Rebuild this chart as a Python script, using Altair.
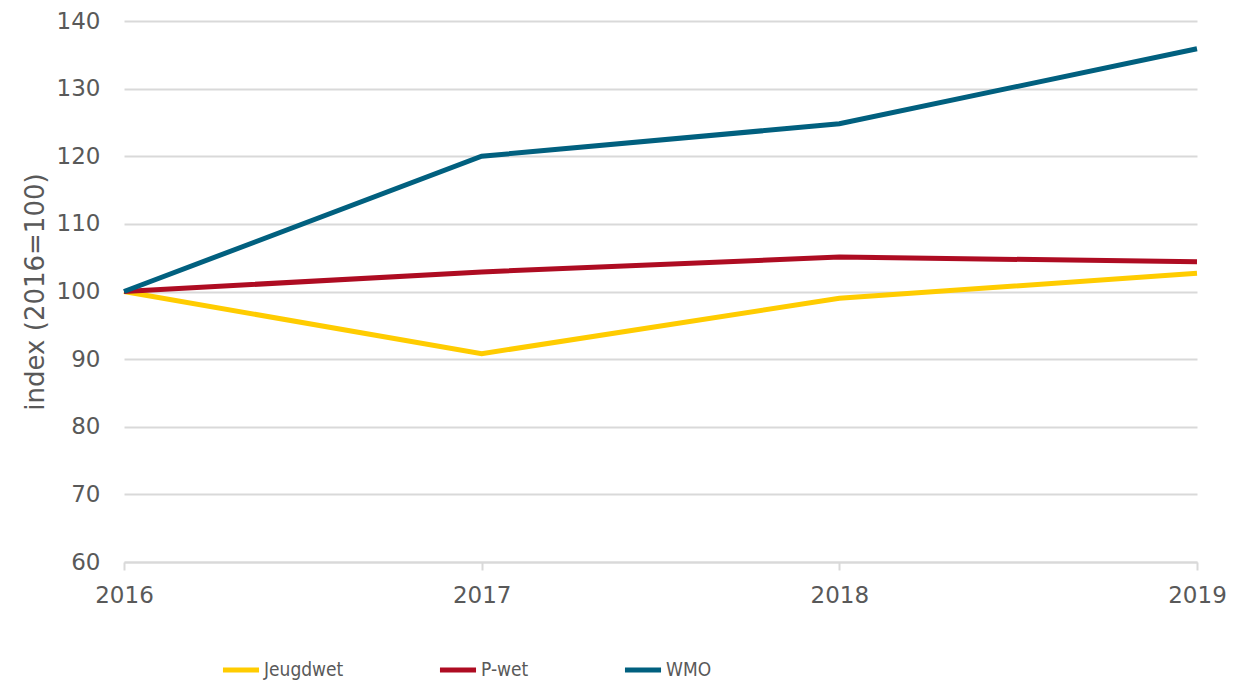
import altair as alt
import pandas as pd

years = [2016, 2017, 2018, 2019]
jeugdwet = [100, 90.8, 99.0, 102.7]
pwet = [100, 102.9, 105.1, 104.4]
wmo = [100, 120.0, 124.8, 135.9]
series = ["Jeugdwet", "P-wet", "WMO"]
colors = ["#FFCC00", "#AE0C22", "#01607F"]

rows = []
for name, vals in zip(series, [jeugdwet, pwet, wmo]):
    for y, v in zip(years, vals):
        rows.append({"jaar": y, "index": v, "reeks": name})
df = pd.DataFrame(rows)

FONT = "DejaVu Sans"
GREY = "#595959"

chart = alt.Chart(df).mark_line(strokeWidth=5).encode(
    x=alt.X("jaar:Q", scale=alt.Scale(domain=[2016, 2019], nice=False, zero=False),
            axis=alt.Axis(values=years, format="d", title=None, grid=False,
                          domain=True, domainColor="#D9D9D9", domainWidth=2,
                          ticks=True, tickColor="#D9D9D9", tickWidth=2, tickSize=8,
                          labelFlush=False,
                          labelPadding=14, labelFontSize=23, labelColor=GREY,
                          labelFont=FONT)),
    y=alt.Y("index:Q", scale=alt.Scale(domain=[60, 140], nice=False, zero=False),
            axis=alt.Axis(values=[60, 70, 80, 90, 100, 110, 120, 130, 140],
                          title="index (2016=100)", titleFontSize=26, titleFontWeight="normal",
                          titleColor=GREY, titleFont=FONT, titlePadding=8,
                          domain=False, ticks=False, grid=True, gridColor="#D9D9D9",
                          gridWidth=2, labelPadding=24, labelFontSize=23,
                          labelColor=GREY, labelFont=FONT)),
    color=alt.Color("reeks:N", scale=alt.Scale(domain=series, range=colors),
                    legend=alt.Legend(title=None, orient="none", legendX=96, legendY=628,
                                      direction="horizontal", columnPadding=85,
                                      symbolType="stroke", symbolStrokeWidth=5,
                                      symbolSize=1300, labelFontSize=19, labelColor=GREY,
                                      labelFont="DejaVu Sans Condensed, DejaVu Sans",
                                      labelOffset=2, padding=0)),
).properties(
    width=1073, height=541,
    padding={"left": 116, "top": 13, "right": 44, "bottom": 120},
    autosize=alt.AutoSizeParams(type="none"),
).configure_view(stroke=None)

chart.save("out.html", embed_options={"renderer": "svg", "actions": False})
